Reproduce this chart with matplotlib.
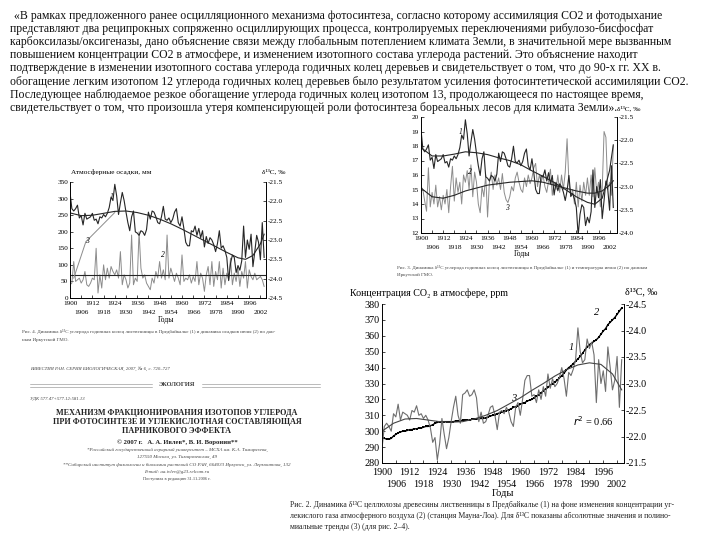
import numpy as np
import matplotlib
matplotlib.use('Agg')
import matplotlib.pyplot as plt
from matplotlib.lines import Line2D

plt.rcParams['font.family'] = ['Liberation Serif', 'DejaVu Serif']
plt.rcParams['axes.linewidth'] = 0.6

# ---- data ----
years = list(range(1900, 2005))

# delta 13C of larch tree rings, permil (same series on all three figures)
d13c = [-21.77, -22.19, -22.25, -22.19, -22.10, -22.43, -22.37, -22.61, -22.31, -22.46,
        -22.43, -22.40, -22.31, -22.49, -22.46, -22.58, -22.40, -22.43, -22.34, -22.40,
        -22.31, -22.16, -21.89, -21.98, -21.56, -21.86, -22.34, -22.04, -21.77, -21.98,
        -22.28, -22.55, -22.76, -22.40, -22.25, -22.79, -22.82, -22.88, -22.76, -22.79,
        -22.88, -22.73, -22.28, -22.46, -22.25, -22.28, -22.40, -22.55, -22.58, -22.40,
        -22.13, -22.46, -22.49, -22.43, -22.55, -22.46, -22.28, -22.19, -22.55, -22.64,
        -22.40, -22.70, -23.06, -23.15, -23.15, -22.76, -22.79, -22.64, -22.88, -22.70,
        -22.94, -22.76, -23.18, -22.91, -23.09, -22.94, -23.00, -23.12, -23.30, -23.09,
        -22.76, -23.21, -23.15, -23.27, -23.45, -24.05, -23.60, -23.39, -23.45, -23.84,
        -23.66, -23.78, -23.54, -22.64, -23.45, -23.00, -23.24, -22.85, -23.69, -23.30,
        -22.88, -23.06, -23.51, -22.55, -23.45]

# June precipitation, mm (fig. 4)
precip = [40, 45, 110, 50, 55, 60, 45, 55, 80, 40,
          35, 45, 60, 55, 150, 15, 70, 30, 100, 55,
          90, 60, 95, 80, 70, 85, 60, 140, 40, 70,
          55, 30, 45, 190, 40, 60, 50, 200, 90, 60,
          70, 45, 35, 25, 60, 45, 80, 60, 110, 60,
          85, 55, 190, 60, 90, 70, 50, 75, 60, 40,
          130, 50, 60, 55, 70, 45, 65, 50, 110, 40,
          75, 60, 20, 70, 95, 40, 110, 35, 80, 55,
          110, 30, 90, 40, 75, 55, 120, 40, 75, 50,
          90, 35, 80, 60, 110, 30, 85, 65, 55, 75,
          55, 60, 65, 55, 35]
precip_mean = 70

# June temperature, C (fig. 3)
temp = [15.2, 15.0, 14.2, 13.5, 16.5, 13.8, 14.8, 14.0, 15.3, 13.8,
        14.5, 13.6, 14.6, 14.0, 15.0, 13.4, 15.2, 16.6, 14.2, 15.8,
        14.8, 15.5, 14.0, 16.0, 15.5, 16.3, 15.0, 16.7, 14.5, 16.2,
        15.5, 14.0, 13.4, 15.2, 14.5, 16.0, 13.1, 15.5, 16.2, 15.0,
        16.0, 15.3, 15.8, 15.0, 16.1, 14.8, 14.3, 14.1, 14.5, 15.2,
        14.9, 15.8, 16.2, 15.5, 15.0, 14.8, 15.8, 15.2, 16.0, 15.4,
        15.8, 16.5, 16.8, 15.2, 16.0, 15.5, 16.0, 15.2, 14.8, 15.6,
        16.4, 14.6, 15.5, 15.0, 16.0, 14.8, 16.0, 15.0, 16.2, 18.5,
        15.5, 14.5, 15.0, 14.0, 15.5, 13.8, 15.3, 14.2, 15.5, 14.6,
        15.8, 14.6, 16.0, 14.5, 16.5, 14.8, 15.5, 13.8, 15.0, 19.0,
        18.6, 15.0, 15.5, 14.6, 18.0]

# CO2 at Mauna Loa, ppm (fig. 2)
co2 = [296.0, 295.5, 295.0, 295.0, 295.5, 297.0, 298.0, 299.0, 299.5, 300.0,
       300.0, 300.5, 301.0, 301.0, 301.5, 301.5, 302.0, 302.0, 302.5, 303.0,
       303.0, 303.5, 304.0, 305.0, 305.5, 306.0, 306.0, 306.0, 306.0, 306.0,
       306.0, 306.0, 306.5, 306.5, 306.5, 307.0, 307.0, 307.0, 307.0, 307.5,
       307.5, 307.5, 308.0, 308.0, 308.0, 308.5, 309.0, 309.5, 310.0, 310.5,
       311.0, 311.5, 312.0, 312.5, 313.0, 313.5, 314.0, 315.0, 315.5, 316.0,
       317.0, 317.5, 318.0, 319.0, 319.5, 320.0, 321.0, 322.0, 323.0, 324.0,
       325.5, 326.5, 327.5, 329.0, 330.0, 331.0, 332.0, 333.5, 335.0, 336.5,
       338.5, 340.0, 341.0, 342.5, 344.0, 345.5, 347.0, 349.0, 351.0, 353.0,
       354.5, 355.5, 356.5, 357.5, 359.0, 361.0, 363.0, 364.5, 367.0, 368.5,
       370.0, 371.5, 373.5, 375.5, 377.5]

# polynomial trends (read at a few years)
trend_years = [1900, 1906, 1912, 1918, 1924, 1930, 1936, 1942, 1948, 1954,
               1960, 1966, 1972, 1978, 1984, 1990, 1994, 1998, 2002, 2004]
trend4_d13c = [-22.30, -22.37, -22.36, -22.31, -22.26, -22.25, -22.29, -22.36, -22.46, -22.58,
               -22.72, -22.87, -23.02, -23.17, -23.32, -23.46, -23.50, -23.40, -23.10, -22.85]
trend3_d13c = [-22.16, -22.34, -22.34, -22.30, -22.25, -22.27, -22.31, -22.38, -22.44, -22.53,
               -22.66, -22.78, -22.91, -23.06, -23.22, -23.34, -23.38, -23.25, -22.65, -22.10]
trend3_temp = [15.1, 14.5, 14.4, 14.6, 14.9, 15.1, 15.3, 15.4, 15.5, 15.55,
               15.6, 15.5, 15.3, 15.1, 14.9, 14.75, 14.75, 14.9, 15.3, 15.6]
trend2_years = [1900, 1905, 1910, 1915, 1920, 1925, 1930, 1935, 1940, 1945, 1950,
                1955, 1960, 1965, 1970, 1975, 1980, 1985, 1990, 1995, 2000, 2004]
trend2_d13c = [-22.10, -22.25, -22.33, -22.34, -22.31, -22.28, -22.27, -22.28, -22.33, -22.40, -22.49,
               -22.61, -22.73, -22.87, -23.00, -23.14, -23.26, -23.35, -23.39, -23.36, -23.18, -22.88]
# line 3 on fig. 4
line3_years = [1902, 1908.5, 1924]
line3_mm = [60, 170, 258]

# x tick labels: two staggered rows
row1_years = list(range(1900, 2000, 12))
row2_years = list(range(1906, 2005, 12))

DARK = '#262626'
GRAY = '#8c8c8c'

W, H = 720, 540
fig = plt.figure(figsize=(7.2, 5.4), dpi=100)


def rect(l, t, r, b):
    return [l / W, 1 - b / H, (r - l) / W, (b - t) / H]


def ftext(x, y, s, **kw):
    kw.setdefault('va', 'center')
    fig.text(x / W, 1 - y / H, s, **kw)


def style(ax, axr, fs, xpad=2.5):
    for a in (ax, axr):
        a.spines['top'].set_visible(False)
        a.tick_params(which='both', direction='in', labelsize=fs, length=2, width=0.5, pad=1.5)
    ax.set_xticks(row1_years)
    ax.set_xticklabels([str(y) for y in row1_years])
    ax.set_xticks(row2_years, minor=True)
    ax.set_xticklabels([str(y) for y in row2_years], minor=True)
    ax.tick_params(axis='x', which='major', pad=xpad)
    ax.tick_params(axis='x', which='minor', pad=xpad + fs * 1.15)


# ---- top paragraph ----
para = [
    "«В рамках предложенного ранее осцилляционного механизма фотосинтеза, согласно которому ассимиляция CO2 и фотодыхание",
    "представляют два реципрокных сопряженно осциллирующих процесса, контролируемых переключениями рибулозо-бисфосфат",
    "карбоксилазы/оксигеназы, дано объяснение связи между глобальным потеплением климата Земли, в значительной мере вызванным",
    "повышением концентрации CO2 в атмосфере, и изменением изотопного состава углерода растений. Это объяснение находит",
    "подтверждение в изменении изотопного состава углерода годичных колец деревьев и свидетельствует о том, что до 90-х гг. XX в.",
    "обогащение легким изотопом 12 углерода годичных колец деревьев было результатом усиления фотосинтетической ассимиляции CO2.",
    "Последующее наблюдаемое резкое обогащение углерода годичных колец изотопом 13, продолжающееся по настоящее время,",
    "свидетельствует о том, что произошла утеря компенсирующей роли фотосинтеза бореальных лесов для климата Земли».",
]
for i, line in enumerate(para):
    ftext(14 if i == 0 else 10, 16 + i * 13.1, line, fontsize=8.5, color='#111111')

# ---- Fig. 4 (left) ----
ax1 = fig.add_axes(rect(70, 182, 266, 298))
ax1r = ax1.twinx()
ax1.plot(years, precip, color=GRAY, lw=0.7)
ax1.axhline(precip_mean, color=DARK, lw=0.8)
ax1.plot(line3_years, line3_mm, color=GRAY, lw=0.7)
ax1r.plot(years, d13c, color=DARK, lw=0.8)
ax1r.plot(trend_years, trend4_d13c, color=DARK, lw=0.8)
ax1.set_xlim(1900, 2005)
ax1.set_ylim(0, 350)
ax1.set_yticks(range(0, 351, 50))
ax1r.set_ylim(-24.5, -21.5)
ax1r.set_yticks(np.arange(-24.5, -21.4, 0.5))
ax1r.set_yticklabels(['%.1f' % v for v in np.arange(-24.5, -21.4, 0.5)])
style(ax1, ax1r, 5.2)
ax1.text(1921.5, 300, '1', fontsize=5.5, style='italic')
ax1.text(1948.5, 125, '2', fontsize=5.5, style='italic')
ax1.text(1908, 165, '3', fontsize=5.5, style='italic')
ftext(71, 172, 'Атмосферные осадки, мм', fontsize=5.2)
ftext(262, 172, 'δ¹³C, ‰', fontsize=5.2)
ftext(166, 320, 'Годы', fontsize=5.5, ha='center')
ftext(22, 332, 'Рис. 4. Динамика δ¹³C углерода годичных колец лиственницы в Предбайкалье (1) и динамика осадков июня (2) по дан-',
      fontsize=3.6, color='#444444')
ftext(22, 340, 'ным Иркутской ГМО.', fontsize=3.6, color='#444444')

# ---- Fig. 3 (top right) ----
ax2 = fig.add_axes(rect(421, 117, 617, 233))
ax2r = ax2.twinx()
ax2.plot(years, temp, color=GRAY, lw=0.7)
ax2.plot(trend_years, trend3_temp, color=DARK, lw=0.8)
ax2r.plot(years, d13c, color=DARK, lw=0.8)
ax2r.plot(trend_years, trend3_d13c, color=DARK, lw=0.8)
ax2.set_xlim(1900, 2006)
ax2.set_ylim(12, 20)
ax2.set_yticks(range(12, 21))
ax2r.set_ylim(-24.0, -21.5)
ax2r.set_yticks(np.arange(-24.0, -21.4, 0.5))
ax2r.set_yticklabels(['%.1f' % v for v in np.arange(-24.0, -21.4, 0.5)])
style(ax2, ax2r, 5.2)
ax2.text(1920.5, 18.8, '1', fontsize=5.5, style='italic')
ax2.text(1925.5, 16.1, '2', fontsize=5.5, style='italic')
ax2.text(1945.5, 13.6, '3', fontsize=5.5, style='italic')
ftext(617, 109, 'δ¹³C, ‰', fontsize=5.2)
ftext(522, 254, 'Годы', fontsize=5.5, ha='center')
ftext(397, 267, 'Рис. 3. Динамика δ¹³C углерода годичных колец лиственницы в Предбайкалье (1) и температуры июня (2) по данным',
      fontsize=3.6, color='#444444')
ftext(397, 275, 'Иркутской ГМО.', fontsize=3.6, color='#444444')

# ---- Fig. 2 (bottom right) ----
ax3 = fig.add_axes(rect(382, 304, 624, 463))
ax3r = ax3.twinx()
ax3r.plot(years, d13c, color='#6e6e6e', lw=0.8)
ax3r.plot(trend2_years, trend2_d13c, color='#444444', lw=0.8)
ax3.plot(years, co2, color='black', lw=1.0, marker='s', ms=2.0, mew=0)
ax3.set_xlim(1900, 2005)
ax3.set_ylim(280, 380)
ax3.set_yticks(range(280, 381, 10))
ax3r.set_ylim(-21.5, -24.5)
ax3r.set_yticks(np.arange(-24.5, -21.4, 0.5))
ax3r.set_yticklabels(['%.1f' % v for v in np.arange(-24.5, -21.4, 0.5)])
style(ax3, ax3r, 7.3, xpad=3.5)
ax3.text(1981, 351, '1', fontsize=7.5, style='italic')
ax3.text(1992, 373, '2', fontsize=7.5, style='italic')
ax3.text(1956, 319, '3', fontsize=7.5, style='italic')
ax3.text(1983, 303.5, '$r^2$ = 0.66', fontsize=7.5)
ftext(350, 293, 'Концентрация CO₂ в атмосфере, ppm', fontsize=7.2)
ftext(657, 292, 'δ¹³C, ‰', fontsize=7.2, ha='right')
ftext(503, 494, 'Годы', fontsize=7.5, ha='center')
cap2 = ['Рис. 2. Динамика δ¹³C целлюлозы древесины лиственницы в Предбайкалье (1) на фоне изменения концентрации уг-',
        'лекислого газа атмосферного воздуха (2) (станция Мауна-Лоа). Для δ¹³C показаны абсолютные значения и полино-',
        'миальные тренды (3) (для рис. 2–4).']
for i, line in enumerate(cap2):
    ftext(290, 505 + i * 10.8, line, fontsize=5.6, color='#222222')

# ---- article header (bottom left) ----
ftext(30, 369, 'ИЗВЕСТИЯ РАН. СЕРИЯ БИОЛОГИЧЕСКАЯ, 2007, № 6, с. 720–727', fontsize=3.4, style='italic', color='#444444')
ftext(177, 385, 'ЭКОЛОГИЯ', fontsize=4.6, weight='bold', ha='center', color='#333333')
for yy in (384, 386.5):
    for x0, x1 in ((30, 152), (202, 320)):
        fig.add_artist(Line2D([x0 / W, x1 / W], [1 - yy / H, 1 - yy / H], color='#888888', lw=0.4))
ftext(30, 399, 'УДК 577.47+577.12:581.13', fontsize=3.4, style='italic', color='#444444')
for i, line in enumerate(['МЕХАНИЗМ ФРАКЦИОНИРОВАНИЯ ИЗОТОПОВ УГЛЕРОДА',
                          'ПРИ ФОТОСИНТЕЗЕ И УГЛЕКИСЛОТНАЯ СОСТАВЛЯЮЩАЯ',
                          'ПАРНИКОВОГО ЭФФЕКТА']):
    ftext(177, 413 + i * 9, line, fontsize=5.9, weight='bold', ha='center', color='#222222')
ftext(177, 442, '© 2007 г.   А. А. Ивлев*, В. И. Воронин**', fontsize=4.8, weight='bold', ha='center', color='#222222')
small = ['*Российский государственный аграрный университет – МСХА им. К.А. Тимирязева,',
         '127550 Москва, ул. Тимирязевская, 49',
         '**Сибирский институт физиологии и биохимии растений СО РАН, 664033 Иркутск, ул. Лермонтова, 132',
         'E-mail: aa.ivlev@g23.relcom.ru']
for i, line in enumerate(small):
    ftext(177, 450 + i * 7.3, line, fontsize=3.6, style='italic', ha='center', color='#444444')
ftext(177, 479, 'Поступила в редакцию 31.11.2006 г.', fontsize=3.2, ha='center', color='#444444')

fig.savefig('out.png', dpi=100)
